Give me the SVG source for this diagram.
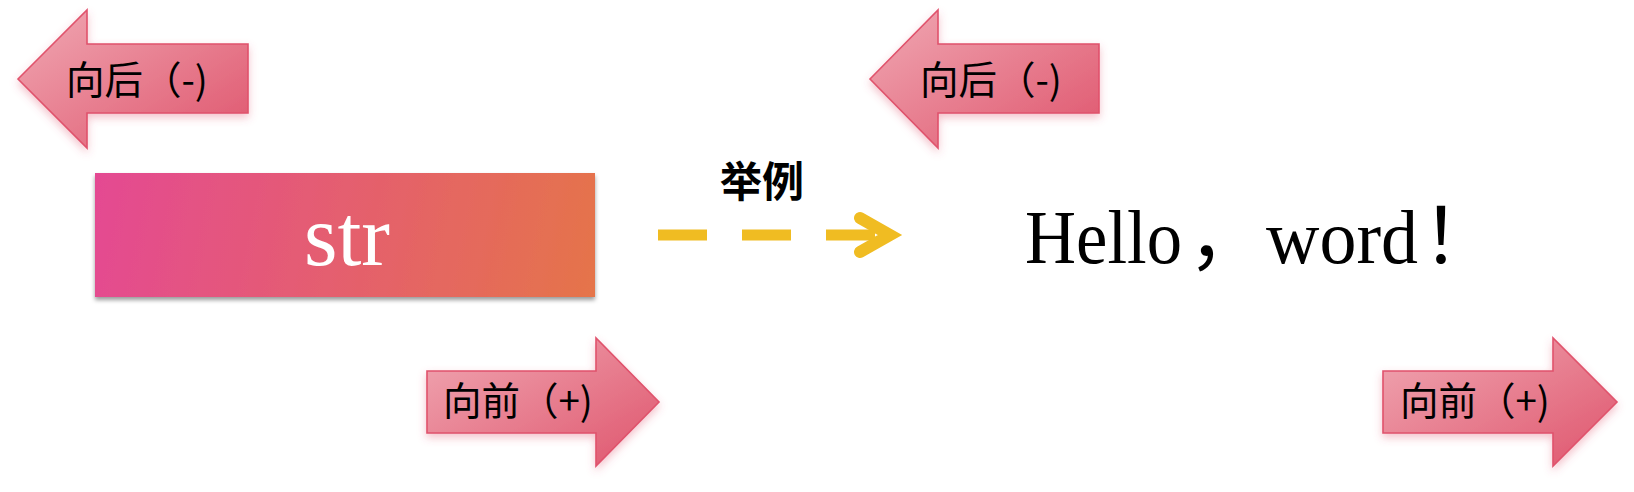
<svg xmlns="http://www.w3.org/2000/svg" width="1634" height="492" viewBox="0 0 1634 492">
<style>
.arrow{fill:url(#ag);stroke:#E0526C;stroke-width:1.6;filter:url(#glow)}
.albl{font-family:"Noto Sans CJK SC","Noto Sans",sans-serif;font-size:38.5px;fill:#000}
.big{font-family:"Liberation Serif","Noto Sans CJK SC",serif}
</style>
<defs>
<linearGradient id="ag" x1="0" y1="0" x2="1" y2="1">
<stop offset="0" stop-color="#F0A8B3"/>
<stop offset="1" stop-color="#DF556D"/>
</linearGradient>
<linearGradient id="rg" gradientUnits="userSpaceOnUse" x1="95" y1="190" x2="595" y2="290">
<stop offset="0" stop-color="#E44A92"/>
<stop offset="1" stop-color="#E5744A"/>
</linearGradient>
<filter id="glow" x="-20%" y="-20%" width="140%" height="150%">
<feDropShadow dx="0" dy="4" stdDeviation="4" flood-color="#E0506A" flood-opacity="0.35"/>
</filter>
<filter id="rshadow" x="-5%" y="-10%" width="110%" height="130%">
<feDropShadow dx="0" dy="3" stdDeviation="2" flood-color="#000" flood-opacity="0.4"/>
</filter>
</defs>

<g id="back-left">
<polygon class="arrow" points="18,79 87,10 87,44 248,44 248,113 87,113 87,148"/>
<text class="albl" x="66" y="94">向后（-)</text>
</g>

<g id="back-right">
<polygon class="arrow" points="870,79 938,10 938,44 1099,44 1099,113 938,113 938,148"/>
<text class="albl" x="920" y="94">向后（-)</text>
</g>

<g id="str">
<rect x="95" y="173" width="500" height="124" fill="url(#rg)" filter="url(#rshadow)"/>
<text class="big" x="347" y="265" font-size="86" fill="#fff" text-anchor="middle">str</text>
</g>

<g id="forward-left">
<polygon class="arrow" points="427,371 596,371 596,338 659,402 596,466 596,433 427,433"/>
<text class="albl" x="443" y="415">向前（+)</text>
</g>

<g id="forward-right">
<polygon class="arrow" points="1383,371 1553,371 1553,338 1617,402 1553,466 1553,433 1383,433"/>
<text class="albl" x="1400" y="415">向前（+)</text>
</g>

<g id="hello">
<text class="big" y="263" font-size="76" fill="#000"><tspan x="1025" textLength="157" lengthAdjust="spacingAndGlyphs">Hello</tspan><tspan x="1188">，</tspan><tspan x="1266" textLength="152" lengthAdjust="spacingAndGlyphs">word</tspan><tspan x="1422">！</tspan></text>
</g>

<g id="connectors">
<path d="M658,235 H893" fill="none" stroke="#F0BC22" stroke-width="11" stroke-dasharray="49 35"/>
<polyline points="860,218 890,235 860,252" fill="none" stroke="#F0BC22" stroke-width="12" stroke-linecap="round" stroke-linejoin="miter"/>
<text x="762" y="197" text-anchor="middle" font-family="Noto Sans CJK SC, sans-serif" font-weight="bold" font-size="42" fill="#000">举例</text>
</g>
</svg>
